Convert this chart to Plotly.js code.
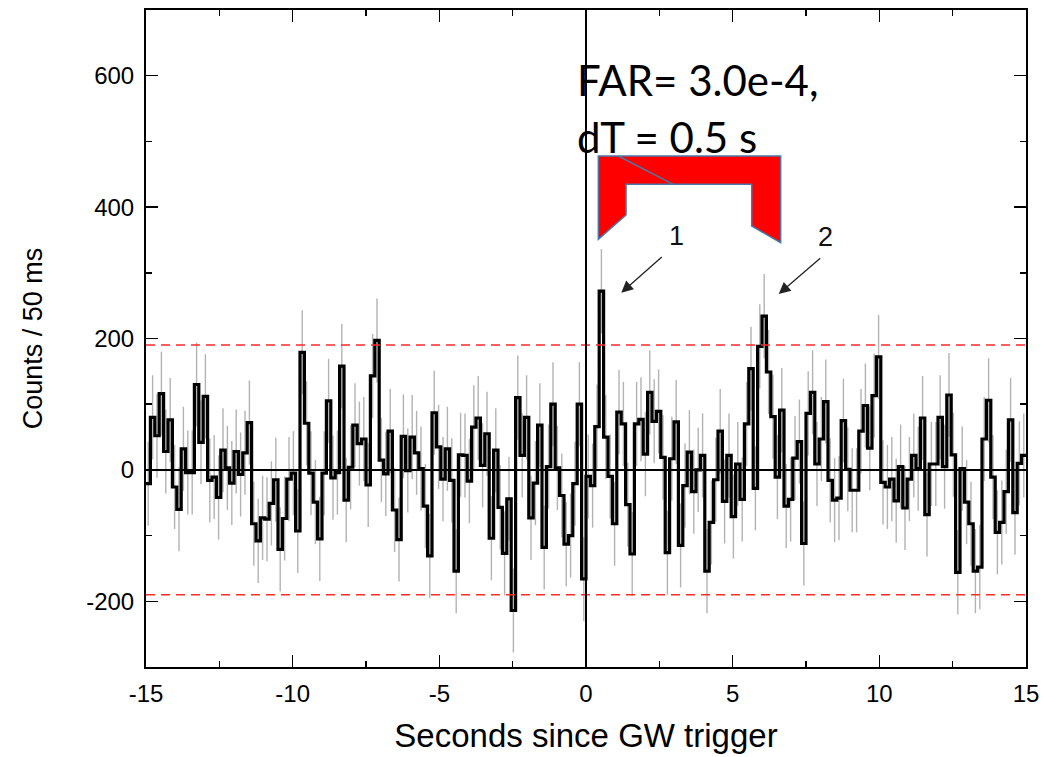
<!DOCTYPE html>
<html>
<head>
<meta charset="utf-8">
<script src="https://cdn.plot.ly/plotly-3.0.1.min.js"></script>
<style>html,body{margin:0;padding:0;background:#fff;}#chart{width:1043px;height:757px;}</style>
</head>
<body>
<div id="chart"></div>
<script>
// ---- Data ----
const timeStart = -15;   // seconds
const timeEnd = 15;
// background-subtracted counts per bin, from -15 s to 0 s
const countsBefore = [
  -21, 80, 52, 116, 28, 76, -26, -60, 32, -4, -4, 130, 42, 112, -16, -11, -42, 30, 3, -20,
  28, -7, 26, 72, -82, -108, -73, -75, -51, -15, -121, -74, -14, -5,
  -93, 179, 71, -5, -49, -105, -5, 105, -12, -4, 158, -46, 4, 68, 40, 47, -23, 143, 197, 15,
  -6, 59, -61, -106, 51, -1, 50, 26, 2, -55, -131, 87, 35,
  -14, 32, -16, -154, 23, 22, -17, 65, 79, 7, 55, -104, 30, -57, -127, -44, -214, 110, 22, 80,
  -73, -20, 68, -118, 5, 100, 3, -39, -113, -100, -21, 100, -166
];
// counts per bin, from 0 s to 15 s
const countsAfter = [
  -10, -24, 66, 272, 50, -10, -82, 88, 70,
  -53, -128, 70, 77, 24, 118, 74, 89, 19, -126, 17, 73, -115,
  -24, 27, -33, 0, 22, -154, -80, -15, 59, -48, 22,
  -71, 9, -45, 70, 154, -28, 188, 234, 149, 81, -11, 91, -55, -45, 18, 43, -112, 86, 118, 9,
  47, 104, -16, -46, -43, 75, 1, -31, -31, 59, 98, 33, 113, 172,
  -19, -26, -14, -47, 5, -58, -14, 22, 2, 79, -68, 9, 9, 80, 5, 114, 23, -156, 2, -49,
  -82, -154, -148, 47, 106, -11, -95, -80, -33, 76, -65, 10, 22
];
const countError = 64;        // typical 1-sigma error per bin
const thresholdLevels = [190, -190];
const xTickVals = [-15, -10, -5, 0, 5, 10, 15];
const yTickVals = [-200, 0, 200, 400, 600];

// ---- Build traces ----
const counts = countsBefore.concat(countsAfter);
const binWidth = (timeEnd - timeStart) / counts.length;
const edges = counts.map((_, i) => timeStart + i * binWidth);
const centers = edges.map(e => e + binWidth / 2);

const stepX = edges.concat([timeEnd]);
const stepY = counts.concat([counts[counts.length - 1]]);

const errTrace = {
  x: centers, y: counts, type: 'scatter', mode: 'markers',
  marker: {size: 1, color: 'rgba(0,0,0,0)'},
  error_y: {type: 'constant', value: countError, color: '#b3b3b3', thickness: 1.4, width: 0},
  hoverinfo: 'skip', showlegend: false
};
const stepTrace = {
  x: stepX, y: stepY, type: 'scatter', mode: 'lines',
  line: {shape: 'hv', color: '#000', width: 3.2},
  showlegend: false
};

const shapes = [];
thresholdLevels.forEach(v => shapes.push({
  type: 'line', xref: 'paper', x0: 0, x1: 1, yref: 'y', y0: v, y1: v,
  line: {color: '#ff2a2a', width: 1.6, dash: '9px,6px'}, layer: 'above'
}));
shapes.push({type: 'line', xref: 'paper', x0: 0, x1: 1, yref: 'y', y0: 0, y1: 0,
  line: {color: '#000', width: 2}, layer: 'above'});
shapes.push({type: 'line', xref: 'x', x0: 0, x1: 0, yref: 'paper', y0: 0, y1: 1,
  line: {color: '#000', width: 2}, layer: 'above'});
// red bracket marker (paper coordinates)
shapes.push({
  type: 'path', xref: 'paper', yref: 'paper',
  path: 'M0.5140,0.7778 L0.7212,0.7778 L0.7212,0.6458 L0.6883,0.6712 L0.6883,0.7347 L0.5455,0.7347 L0.5455,0.6880 L0.5140,0.6510 Z',
  fillcolor: '#ff0000', line: {color: '#4a78a8', width: 1.5}, layer: 'above'
});
shapes.push({
  type: 'line', xref: 'paper', yref: 'paper', x0: 0.5367, y0: 0.7778, x1: 0.5992, y1: 0.7347,
  line: {color: '#4a78a8', width: 1.5}, layer: 'above'
});

const annFont = {family: 'Liberation Sans, Arial, sans-serif', size: 27, color: '#111'};
const annotations = [
  {xref: 'paper', yref: 'paper', x: 0.4875, y: 0.8935, xanchor: 'left', yanchor: 'middle',
   text: 'FAR= 3.0e-4,', showarrow: false, font: {family: 'Lato, sans-serif', size: 42, color: '#000'}},
  {xref: 'paper', yref: 'paper', x: 0.4875, y: 0.8067, xanchor: 'left', yanchor: 'middle',
   text: 'dT = 0.5 s', showarrow: false, font: {family: 'Lato, sans-serif', size: 42, color: '#000'}},
  {xref: 'paper', yref: 'paper', x: 0.6034, y: 0.6560, text: '1', showarrow: false, font: annFont},
  {xref: 'paper', yref: 'paper', x: 0.7830, y: 0.6545, text: '2', showarrow: false, font: annFont},
  {xref: 'paper', yref: 'paper', x: 0.5401, y: 0.5697, ax: 42, ay: -37, text: '',
   showarrow: true, arrowhead: 2, arrowsize: 1.8, arrowwidth: 1.3, arrowcolor: '#222'},
  {xref: 'paper', yref: 'paper', x: 0.7190, y: 0.5677, ax: 43, ay: -37, text: '',
   showarrow: true, arrowhead: 2, arrowsize: 1.8, arrowwidth: 1.3, arrowcolor: '#222'}
];

const tickFont = {family: 'Liberation Sans, Arial, sans-serif', size: 24, color: '#000'};
const layout = {
  width: 1043, height: 757,
  margin: {l: 146, r: 17, t: 10, b: 90},
  paper_bgcolor: '#fff', plot_bgcolor: '#fff',
  showlegend: false,
  xaxis: {
    range: [timeStart, timeEnd], autorange: false,
    tickvals: xTickVals, ticktext: xTickVals.map(String),
    ticks: 'inside', ticklen: 12, tickwidth: 1.5, tickcolor: '#000',
    minor: {dtick: 2.5, tick0: 0, ticks: 'inside', ticklen: 6, tickwidth: 1.5, tickcolor: '#000', showgrid: false},
    showline: true, linecolor: '#000', linewidth: 2, mirror: 'ticks',
    showgrid: false, zeroline: false,
    tickfont: tickFont, ticklabelstandoff: 4,
    title: {text: 'Seconds since GW trigger', font: {family: 'Liberation Sans, Arial, sans-serif', size: 33, color: '#000'}, standoff: 18},
    automargin: false
  },
  yaxis: {
    range: [-300, 700], autorange: false,
    tickvals: yTickVals, ticktext: yTickVals.map(String),
    ticks: 'inside', ticklen: 12, tickwidth: 1.5, tickcolor: '#000',
    minor: {dtick: 100, tick0: 0, ticks: 'inside', ticklen: 6, tickwidth: 1.5, tickcolor: '#000', showgrid: false},
    showline: true, linecolor: '#000', linewidth: 2, mirror: 'ticks',
    showgrid: false, zeroline: false,
    tickfont: tickFont, ticklabelstandoff: 5,
    title: {text: 'Counts / 50 ms', font: {family: 'Liberation Sans, Arial, sans-serif', size: 27, color: '#000'}, standoff: 36},
    automargin: false
  },
  shapes: shapes,
  annotations: annotations
};

Plotly.newPlot('chart', [errTrace, stepTrace], layout, {displayModeBar: false, staticPlot: true});
</script>
</body>
</html>
